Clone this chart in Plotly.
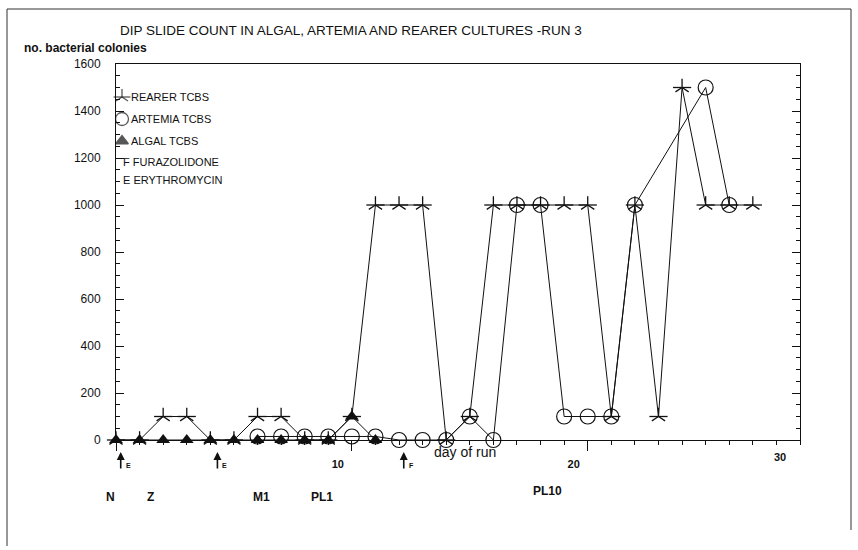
import plotly.graph_objects as go

# ---- data -------------------------------------------------------------
rearer_days = list(range(28))
rearer_tcbs = [0, 0, 100, 100, 0, 0, 100, 100, 0, 0, 100,
               1000, 1000, 1000, 0, 100, 1000, 1000, 1000, 1000, 1000,
               100, 1000, 100, 1500, 1000, 1000, 1000]

artemia_days = [6, 7, 8, 9, 10, 11, 12, 13, 14, 15, 16, 17, 18, 19, 20, 21, 22, 25, 26]
artemia_tcbs = [15, 15, 15, 15, 15, 15, 0, 0, 0, 100, 0, 1000, 1000, 100, 100, 100, 1000, 1500, 1000]

algal_days = list(range(12))
algal_tcbs = [0, 0, 0, 0, 0, 0, 0, 0, 0, 0, 100, 0]

# antibiotic treatments (E = erythromycin, F = furazolidone)
treatment_days = [0.2, 4.3, 12.2]
treatment_codes = ["E", "E", "F"]

# larval stages
stage_names = ["N", "Z", "M1", "PL1", "PL10"]
stage_days = [-0.25, 1.45, 6.15, 8.75, 18.3]

legend_entries = ["REARER TCBS", "ARTEMIA TCBS", "ALGAL TCBS", "F FURAZOLIDONE", "E ERYTHROMYCIN"]

X_MAX = 29.0

# ---- layout geometry (pixels) ------------------------------------------
W, H = 858, 550
L, R, T, B = 116, 58, 64, 110
PW, PH = W - L - R, H - T - B


def px(xp):
    return (xp - L) / PW


def py(yp):
    return (H - B - yp) / PH


def day_to_paper(d):
    return d / X_MAX


FONT = "Liberation Sans, Arial, sans-serif"
INK = "#111111"

fig = go.Figure()

fig.add_trace(go.Scatter(
    x=algal_days, y=algal_tcbs, mode="lines+markers",
    line=dict(color=INK, width=1),
    marker=dict(symbol="triangle-up", size=12, color=INK),
    cliponaxis=False, showlegend=False))

fig.add_trace(go.Scatter(
    x=artemia_days, y=artemia_tcbs, mode="lines+markers",
    line=dict(color=INK, width=1),
    marker=dict(symbol="circle-open", size=15, color=INK, line=dict(width=1.2, color=INK)),
    cliponaxis=False, showlegend=False))

# rearer star: three-armed "y" plus a horizontal bar gives a five-armed asterisk
fig.add_trace(go.Scatter(
    x=rearer_days, y=rearer_tcbs, mode="lines+markers",
    line=dict(color=INK, width=1),
    marker=dict(symbol="y-up-open", size=11, color=INK, line=dict(width=1.3, color=INK)),
    cliponaxis=False, showlegend=False))
fig.add_trace(go.Scatter(
    x=rearer_days, y=rearer_tcbs, mode="markers",
    marker=dict(symbol="line-ew-open", size=13, color=INK, line=dict(width=1.3, color=INK)),
    cliponaxis=False, showlegend=False))

# ---- key symbols on an overlay axis spanning the plot area -------------
key_x = [px(122)] * 4
key_y = [py(97), py(97), py(119), py(141)]
key_sym = ["y-up-open", "line-ew-open", "circle-open", "triangle-up"]
key_size = [10, 12, 13, 11]
fig.add_trace(go.Scatter(
    x=key_x, y=key_y, mode="markers", xaxis="x2", yaxis="y2",
    marker=dict(symbol=key_sym, size=key_size, color=INK, line=dict(width=1.3, color=INK)),
    cliponaxis=False, showlegend=False, hoverinfo="skip"))

annotations = []
key_rows = [97, 119, 141, 162, 180]
for i, (txt, yy) in enumerate(zip(legend_entries, key_rows)):
    annotations.append(dict(
        x=px(129 if i < 3 else 121), y=py(yy), xref="paper", yref="paper",
        text=txt, showarrow=False, xanchor="left", yanchor="middle",
        font=dict(family=FONT, size=11, color=INK)))

# title and axis captions
annotations.append(dict(
    x=px(118), y=py(31), xref="paper", yref="paper",
    text="DIP SLIDE COUNT IN ALGAL, ARTEMIA AND REARER CULTURES -RUN 3",
    showarrow=False, xanchor="left", yanchor="middle",
    font=dict(family=FONT, size=13.5, color=INK)))
annotations.append(dict(
    x=px(22), y=py(48), xref="paper", yref="paper",
    text="<b>no. bacterial colonies</b>", showarrow=False, xanchor="left", yanchor="middle",
    font=dict(family=FONT, size=12, color=INK)))
annotations.append(dict(
    x=px(465), y=py(452), xref="paper", yref="paper",
    text="day of run", showarrow=False, xanchor="center", yanchor="middle",
    font=dict(family=FONT, size=14, color=INK)))
annotations.append(dict(
    x=px(780), y=py(457), xref="paper", yref="paper",
    text="<b>30</b>", showarrow=False, xanchor="center", yanchor="middle",
    font=dict(family=FONT, size=11, color=INK)))

# treatment arrows
for d, code in zip(treatment_days, treatment_codes):
    annotations.append(dict(
        x=d, y=py(452), xref="x", yref="paper", text="", showarrow=True,
        ax=0, ay=18, arrowhead=2, arrowsize=1, arrowwidth=1.6, arrowcolor=INK))
    annotations.append(dict(
        x=d, y=py(466), xref="x", yref="paper", text="<b>" + code + "</b>",
        showarrow=False, xanchor="left", yanchor="middle", xshift=3,
        font=dict(family=FONT, size=7, color=INK)))

# larval stages
for name, d in zip(stage_names, stage_days):
    annotations.append(dict(
        x=day_to_paper(d), y=py(491 if name == "PL10" else 497), xref="paper", yref="paper",
        text="<b>" + name + "</b>", showarrow=False, xanchor="center", yanchor="middle",
        font=dict(family=FONT, size=12, color=INK)))

# outer frame (left, top, right)
shapes = [dict(
    type="path", xref="paper", yref="paper",
    path=f"M {px(7)} {py(546)} L {px(7)} {py(9)} L {px(851)} {py(9)} L {px(851)} {py(530)}",
    line=dict(color="#333333", width=1))]

fig.update_layout(
    width=W, height=H,
    margin=dict(l=L, r=R, t=T, b=B),
    paper_bgcolor="white", plot_bgcolor="white",
    font=dict(family=FONT, color=INK),
    showlegend=False,
    annotations=annotations,
    shapes=shapes,
    xaxis=dict(
        range=[0, X_MAX], showgrid=False, zeroline=False,
        showline=True, linecolor=INK, linewidth=1, mirror=True,
        tickmode="linear", tick0=0, dtick=10,
        labelalias={"0": " "},
        ticks="outside", ticklen=10, tickwidth=1, tickcolor=INK,
        ticklabelshift=-14, ticklabelstandoff=4,
        tickfont=dict(family=FONT, size=11, color=INK, weight="bold"),
        minor=dict(tickmode="linear", dtick=1, tick0=0, ticks="outside", ticklen=4,
                   tickcolor=INK, showgrid=False),
    ),
    yaxis=dict(
        range=[0, 1600], showgrid=False, zeroline=False,
        showline=True, linecolor=INK, linewidth=1, mirror="ticks",
        tickmode="linear", tick0=0, dtick=200,
        ticks="inside", ticklen=8, tickwidth=1, tickcolor=INK,
        ticklabelstandoff=12,
        tickfont=dict(family=FONT, size=12, color=INK),
        minor=dict(tickmode="linear", dtick=50, tick0=0, ticks="inside", ticklen=4,
                   tickcolor=INK, showgrid=False),
    ),
    xaxis2=dict(overlaying="x", range=[0, 1], visible=False, fixedrange=True),
    yaxis2=dict(overlaying="y", range=[0, 1], visible=False, fixedrange=True),
)

fig.write_html("out.html")
